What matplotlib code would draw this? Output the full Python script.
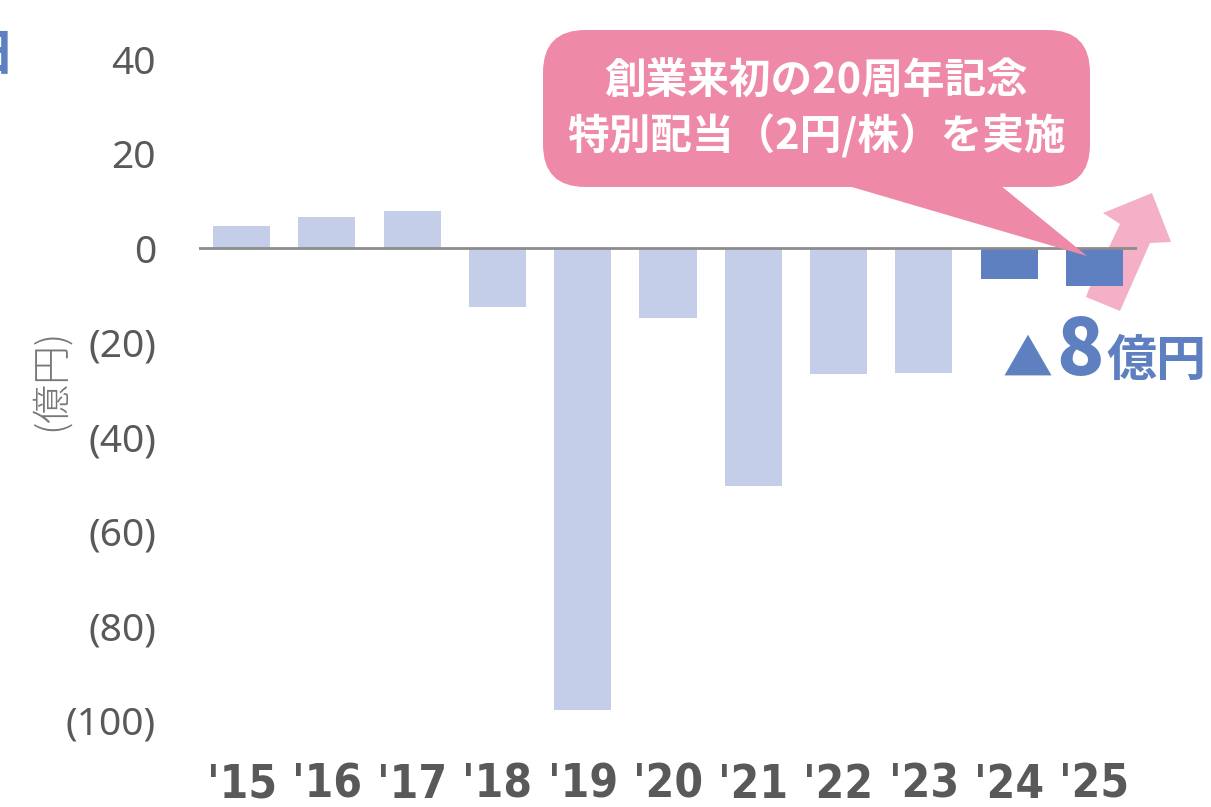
import matplotlib.pyplot as plt
from matplotlib.patches import FancyBboxPatch, Polygon

plt.rcParams['font.family'] = ['Noto Sans CJK JP', 'DejaVu Sans']

years = ["'15", "'16", "'17", "'18", "'19", "'20", "'21", "'22", "'23", "'24", "'25"]
values = [4.6, 6.6, 7.8, -12.5, -97.9, -14.8, -50.4, -26.7, -26.5, -6.6, -8.0]
yticks = [40, 20, 0, -20, -40, -60, -80, -100]
ytick_labels = ['40', '20', '0', '(20)', '(40)', '(60)', '(80)', '(100)']

light = '#C5CEE8'
dark = '#5F80C0'
colors = [light] * 9 + [dark] * 2

W, H = 1211, 807
fig = plt.figure(figsize=(W / 100, H / 100), dpi=100)
ax = fig.add_axes([199 / W, 1 - 729.6 / H, (1137 - 199) / W, (729.6 - 40.3) / H])

ax.bar(range(len(years)), values, width=0.67, color=colors, zorder=3)
ax.axhline(0, color='#8C8C8C', lw=2, zorder=4)
ax.set_xlim(-0.5, len(years) - 0.5)
ax.set_ylim(-102, 44)

for s in ax.spines.values():
    s.set_visible(False)
ax.set_yticks(yticks)
ax.set_yticklabels(ytick_labels, fontsize=28, color='#595959', family=['Noto Sans', 'DejaVu Sans'])
ax.set_xticks(range(len(years)))
ax.set_xticklabels(years, fontsize=33, color='#595959', fontweight='bold', fontstretch='condensed',
                   family=['Liberation Sans Narrow', 'DejaVu Sans Condensed', 'DejaVu Sans'])
ax.tick_params(axis='y', length=0, pad=31)
ax.tick_params(axis='x', length=0, pad=24)

# y-axis unit label
fig.text(51 / W, 1 - 380 / H, '(億円)', rotation=90, fontsize=28, color='#777777',
         fontweight='light', ha='center', va='center')

# partially visible text at top-left edge
fig.text(14 / W, 1 - 55 / H, '日', fontsize=36, color=dark, fontweight='bold',
         ha='right', va='center')


def px(x, y):
    return (x / W, 1 - y / H)


# pink arrow behind the last bar
arrow_pts = [(1086, 297), (1120, 311), (1150, 243), (1171, 242), (1152, 193),
             (1103, 213), (1120, 224), (1089, 289)]
arrow = Polygon([px(x, y) for x, y in arrow_pts], closed=True,
                transform=fig.transFigure, facecolor='#F4B0C6', edgecolor='none', zorder=1)
fig.patches.append(arrow)
ax.set_zorder(2)
ax.patch.set_alpha(0)

# callout bubble
bubble_col = '#EE8AA8'
x0, y0 = px(543, 187)
x1, y1 = px(1090, 30)
bubble = FancyBboxPatch((x0, y0), x1 - x0, y1 - y0,
                        boxstyle='round,pad=0,rounding_size=0.035',
                        transform=fig.transFigure, facecolor=bubble_col,
                        edgecolor='none', zorder=10, mutation_aspect=W / H)
fig.patches.append(bubble)
tail = Polygon([px(845, 185), px(1000, 185), px(1087, 256)], closed=True,
               transform=fig.transFigure, facecolor=bubble_col, edgecolor='none', zorder=10)
fig.patches.append(tail)
fig.text(816 / W, 1 - 82 / H, '創業来初の20周年記念', fontsize=30, color='white',
         fontweight='bold', ha='center', va='center', zorder=11)
fig.text(817 / W, 1 - 136 / H, '特別配当（2円/株）を実施', fontsize=30, color='white',
         fontweight='bold', ha='center', va='center', zorder=11)

# ▲8億円
fig.text(1003 / W, 1 - 376 / H, '▲', fontsize=36, color=dark, ha='left', va='baseline')
fig.text(1056 / W, 1 - 375 / H, '8', fontsize=56, color=dark, fontweight='heavy',
         ha='left', va='baseline')
fig.text(1106 / W, 1 - 376 / H, '億円', fontsize=36, color=dark, fontweight='bold',
         ha='left', va='baseline')

fig.savefig('out.png', dpi=100)
